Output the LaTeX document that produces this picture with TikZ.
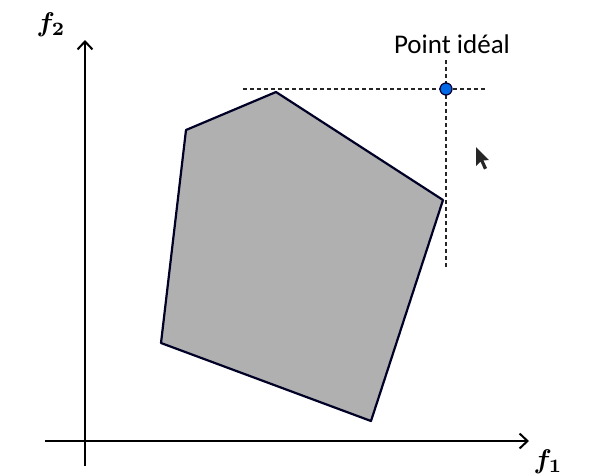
\documentclass[tikz,border=0pt]{standalone}
\usepackage{fontspec}
\newfontfamily\labelfont{Carlito}
\usetikzlibrary{arrows.meta}
\newcommand{\axl}[1]{\scalebox{2.7}{\boldmath$#1$}}
\begin{document}
\begin{tikzpicture}[x=1pt,y=-1pt,
  axis/.style={line width=2.3pt,-{Straight Barb[length=8pt,width=15pt,line width=2pt]}},
  guide/.style={line width=1.4pt,dash pattern=on 4pt off 3pt,black!85},
  region/.style={fill=black!31,draw=black!85!blue,line width=2.2pt,line join=round},
  ideal/.style={circle,fill=blue!55!cyan!90!black,draw=black!80!blue,line width=1.2pt,minimum size=12pt,inner sep=0pt},
  axlabel/.style={inner sep=0pt}]
\useasboundingbox (0,0) rectangle (592,475);
% axes
\coordinate (xs) at (45,441);
\coordinate (xe) at (529,441);
\coordinate (ys) at (85,466);
\coordinate (ye) at (85,40);
\draw[axis] (xs) -- (xe);
\draw[axis] (ys) -- (ye);
\node[axlabel] (f1) at (548,462) {\axl{f_1}};
\node[axlabel] (f2) at (51,25) {\axl{f_2}};
% polygon
\coordinate (A) at (276,92);
\coordinate (B) at (443,200);
\coordinate (C) at (371,421);
\coordinate (D) at (161,343);
\coordinate (E) at (186,130);
\draw[region] (A) -- (B) -- (C) -- (D) -- (E) -- cycle;
% guides
\coordinate (hs) at (243,89);
\coordinate (he) at (486,89);
\coordinate (vs) at (446,60);
\coordinate (ve) at (446,268);
\draw[guide] (hs) -- (he);
\draw[guide] (vs) -- (ve);
\node[ideal] (P) at (446,89) {};
\node[font=\labelfont\fontsize{27}{32}\selectfont] (lbl) at (452,44) {Point idéal};
% mouse cursor
\fill[black!85] (476,147) -- (476,166) -- (480.5,161.5) -- (484,169.5) -- (487,168) -- (483.5,160.5) -- (489,160) -- cycle;
\end{tikzpicture}
\end{document}
